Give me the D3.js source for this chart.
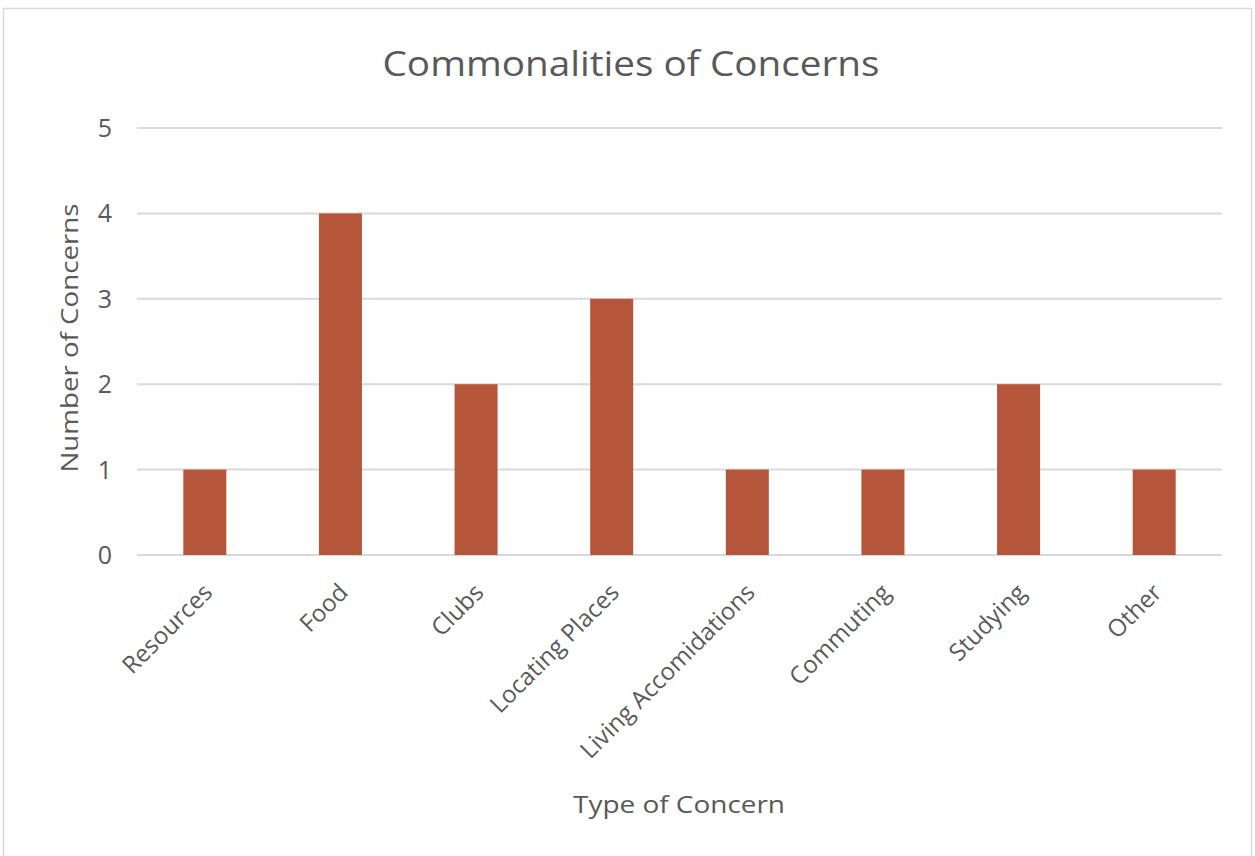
<!DOCTYPE html>
<html>
<head>
<meta charset="utf-8">
<script src="https://cdn.jsdelivr.net/npm/d3@7"></script>
<style>
  body { margin: 0; background: #fff; }
  svg text { font-family: "Open Sans", "Liberation Sans", sans-serif; fill: #595959; }
</style>
</head>
<body>
<div id="chart"></div>
<script>
var categories = ["Resources", "Food", "Clubs", "Locating Places", "Living Accomidations", "Commuting", "Studying", "Other"];
var counts = [1, 4, 2, 3, 1, 1, 2, 1];
var yTicks = [0, 1, 2, 3, 4, 5];

var chartWidth = 1255, chartHeight = 856;
var plotLeft = 137, plotRight = 1222, plotTop = 128, plotBottom = 555;

var svg = d3.select("#chart").append("svg")
    .attr("width", chartWidth)
    .attr("height", chartHeight);

// chart frame
svg.append("rect")
    .attr("x", 3.5).attr("y", 8.5)
    .attr("width", 1248).attr("height", 860)
    .attr("fill", "#fff")
    .attr("stroke", "#d9d9d9")
    .attr("stroke-width", 1.5);

var x = d3.scaleBand()
    .domain(categories)
    .range([plotLeft, plotRight])
    .paddingInner(0.683)
    .paddingOuter(0.3415);

var y = d3.scaleLinear()
    .domain([0, 5])
    .range([plotBottom, plotTop]);

// gridlines
svg.append("g")
    .selectAll("line")
    .data(yTicks)
    .enter()
    .append("line")
    .attr("x1", plotLeft)
    .attr("x2", plotRight)
    .attr("y1", function (d) { return y(d); })
    .attr("y2", function (d) { return y(d); })
    .style("stroke", "#d9d9d9")
    .style("stroke-width", 2);

// y tick labels
svg.append("g")
    .selectAll("text")
    .data(yTicks)
    .enter()
    .append("text")
    .attr("x", 112)
    .attr("y", function (d) { return y(d); })
    .attr("dy", "0.36em")
    .attr("text-anchor", "end")
    .style("font-size", "25px")
    .text(function (d) { return d; });

// bars
svg.append("g")
    .selectAll("rect")
    .data(counts)
    .enter()
    .append("rect")
    .attr("x", function (d, i) { return x(categories[i]); })
    .attr("y", function (d) { return y(d); })
    .attr("width", x.bandwidth())
    .attr("height", function (d) { return y(0) - y(d); })
    .attr("fill", "#b5553a");

// x category labels, rotated
svg.append("g")
    .selectAll("text")
    .data(categories)
    .enter()
    .append("text")
    .attr("transform", function (d) {
        var cx = x(d) + x.bandwidth() / 2 + 3;
        return "translate(" + cx + ",588) rotate(-45)";
    })
    .attr("text-anchor", "end")
    .attr("dy", "0.35em")
    .style("font-size", "24px")
    .text(function (d) { return d; });

// title
svg.append("text")
    .attr("x", 631)
    .attr("y", 76)
    .attr("text-anchor", "middle")
    .attr("textLength", 497)
    .attr("lengthAdjust", "spacingAndGlyphs")
    .style("font-size", "34px")
    .text("Commonalities of Concerns");

// axis titles
svg.append("text")
    .attr("transform", "translate(78,338) rotate(-90)")
    .attr("text-anchor", "middle")
    .attr("textLength", 269)
    .attr("lengthAdjust", "spacingAndGlyphs")
    .style("font-size", "24px")
    .text("Number of Concerns");

svg.append("text")
    .attr("x", 679)
    .attr("y", 813)
    .attr("text-anchor", "middle")
    .attr("textLength", 212)
    .attr("lengthAdjust", "spacingAndGlyphs")
    .style("font-size", "24px")
    .text("Type of Concern");
</script>
</body>
</html>
